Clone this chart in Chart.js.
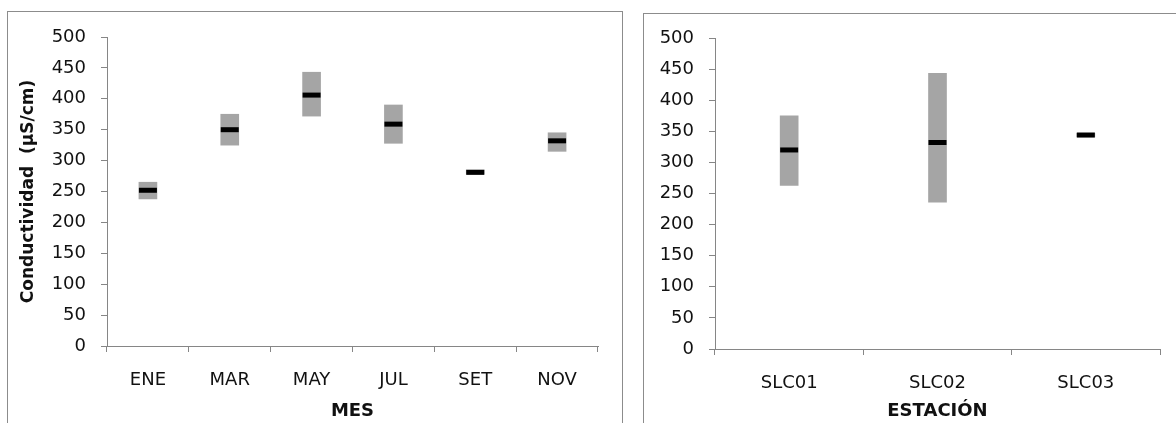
<!DOCTYPE html>
<html>
<head>
<meta charset="utf-8">
<script src="https://cdn.jsdelivr.net/npm/chart.js@4/dist/chart.umd.min.js"></script>
<style>
  body { margin: 0; background: #fff; width: 1176px; height: 423px; overflow: hidden; position: relative; }
  .marco { position: absolute; border: 1px solid #8c8c8c; height: 600px; }
  canvas { position: absolute; top: 0; }
</style>
</head>
<body>
<div class="marco" style="left:7px; top:11px; width:614px;"></div>
<div class="marco" style="left:643px; top:13px; width:600px;"></div>
<canvas id="chartMes" width="622" height="423" style="left:0px"></canvas>
<canvas id="chartEst" width="546" height="423" style="left:630px"></canvas>
<script>
// Valores por mes (mínimo, máximo, promedio)
const mesLabels = ['ENE', 'MAR', 'MAY', 'JUL', 'SET', 'NOV'];
const mesMin = [238, 325, 372, 328, 278, 315];
const mesMax = [265, 375, 443, 390, 285, 345];
const mesMedia = [252, 350, 406, 359, 281, 332];

// Valores por estación
const estLabels = ['SLC01', 'SLC02', 'SLC03'];
const estMin = [263, 236, 341];
const estMax = [375, 443, 347];
const estMedia = [320, 332, 344];

const yTicks = [0, 50, 100, 150, 200, 250, 300, 350, 400, 450, 500];

const ejeColor = '#868686';
const textoColor = '#111';
const fuente = 'DejaVu Sans';

// Crea un gráfico de rangos con la media marcada
function crearGrafico(id, labels, mins, maxs, medias, cfg) {
    const ctx = document.getElementById(id).getContext('2d');
    return new Chart(ctx, {
        type: 'bar',
        data: {
            labels: labels,
            datasets: [
                {
                    type: 'line',
                    data: medias,
                    showLine: false,
                    pointStyle: 'line',
                    pointRadius: 9,
                    pointBorderWidth: 5,
                    borderColor: '#000',
                    backgroundColor: '#000',
                    order: 0
                },
                {
                    data: labels.map((_, i) => [mins[i], maxs[i]]),
                    backgroundColor: '#a5a5a5',
                    barThickness: 18,
                    order: 1
                }
            ]
        },
        options: {
            responsive: false,
            animation: false,
            devicePixelRatio: 1,
            layout: { padding: { left: 0, top: cfg.top, right: cfg.right, bottom: 0 } },
            plugins: { legend: { display: false }, tooltip: { enabled: false } },
            scales: {
                x: {
                    grid: { drawOnChartArea: false, drawTicks: true, tickLength: 6, color: ejeColor, offset: true },
                    border: { color: ejeColor, width: 1 },
                    ticks: { color: textoColor, font: { family: fuente, size: 18 }, padding: 18, maxRotation: 0 },
                    title: { display: true, text: cfg.xTitle, color: textoColor, font: { family: fuente, size: 18, weight: 'bold' }, padding: { top: 0, bottom: 1 } },
                    afterFit: s => { s.height = 423 - cfg.bottom; }
                },
                y: {
                    min: 0,
                    max: 500,
                    afterBuildTicks: s => { s.ticks = yTicks.map(v => ({ value: v })); },
                    grid: { drawOnChartArea: false, drawTicks: true, tickLength: 6, color: ejeColor },
                    border: { color: ejeColor, width: 1 },
                    ticks: { color: textoColor, font: { family: fuente, size: 18 }, padding: 15 },
                    title: { display: !!cfg.yTitle, text: cfg.yTitle, color: textoColor, font: { family: fuente, size: 17, weight: 'bold' }, padding: { top: 18, bottom: 0 } },
                    afterFit: s => { s.width = cfg.left; }
                }
            }
        }
    });
}

crearGrafico('chartMes', mesLabels, mesMin, mesMax, mesMedia,
    { left: 107, top: 37, right: 24, bottom: 346, xTitle: 'MES', yTitle: 'Conductividad  (µS/cm)' });
crearGrafico('chartEst', estLabels, estMin, estMax, estMedia,
    { left: 85, top: 38, right: 16, bottom: 349, xTitle: 'ESTACIÓN', yTitle: '' });
</script>
</body>
</html>
